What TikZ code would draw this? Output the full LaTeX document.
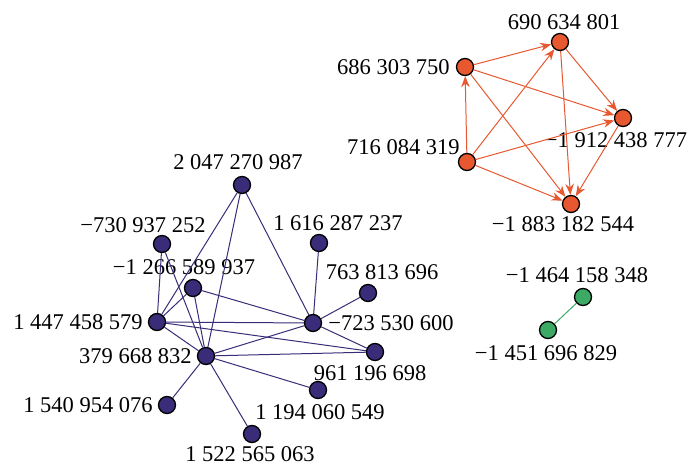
\documentclass[tikz,border=0pt]{standalone}
\usepackage{fontspec}
\setmainfont{Liberation Serif}
\usetikzlibrary{positioning,arrows.meta}

\definecolor{indigo}{RGB}{58,44,120}
\definecolor{tomato}{RGB}{232,88,48}
\definecolor{leaf}{RGB}{60,170,100}

\begin{document}
\begin{tikzpicture}[x=1pt,y=-1pt]
        \tikzstyle{vertex}=[circle, draw=black, line width=1.3pt, minimum size=17pt, inner sep=0pt];
        \tikzstyle{bluev}=[vertex, fill=indigo];
        \tikzstyle{redv}=[vertex, fill=tomato];
        \tikzstyle{greenv}=[vertex, fill=leaf];
        \tikzstyle{number}=[inner sep=0pt, font=\fontsize{22.5}{26}\selectfont];
        \tikzstyle{blueedge}=[draw=indigo, line width=1pt];
        \tikzstyle{rededge}=[draw=tomato, line width=1pt, -{Stealth[length=11pt, width=8.5pt]}];
        \tikzstyle{greenedge}=[draw=leaf, line width=1pt];

        \useasboundingbox (0,0) rectangle (700,465);

        % first component
        \node [bluev] (A) at (242,185) {};
        \node [bluev] (B) at (162,244) {};
        \node [bluev] (C) at (319,243) {};
        \node [bluev] (D) at (193,288) {};
        \node [bluev] (E) at (368,293) {};
        \node [bluev] (F) at (157,322) {};
        \node [bluev] (G) at (313,323) {};
        \node [bluev] (H) at (206,356) {};
        \node [bluev] (I) at (375,352) {};
        \node [bluev] (J) at (318,390) {};
        \node [bluev] (K) at (167,405) {};
        \node [bluev] (L) at (252,434) {};

        \node [number, above=6pt of A, xshift=-4pt] (lA) {2 047 270 987};
        \node [number, above=2pt of B, xshift=-19pt] (lB) {−730 937 252};
        \node [number, above=3pt of C, xshift=19pt] (lC) {1 616 287 237};
        \node [number, above=4pt of D, xshift=-9pt] (lD) {−1 266 589 937};
        \node [number, above=4pt of E, xshift=14pt] (lE) {763 813 696};
        \node [number, left=5pt of F] (lF) {1 447 458 579};
        \node [number, right=6pt of G] (lG) {−723 530 600};
        \node [number, left=5pt of H] (lH) {379 668 832};
        \node [number, below=4pt of I, xshift=-5pt] (lI) {961 196 698};
        \node [number, below=5pt of J, xshift=2pt] (lJ) {1 194 060 549};
        \node [number, left=5pt of K] (lK) {1 540 954 076};
        \node [number, below=3pt of L, xshift=-2pt] (lL) {1 522 565 063};

        \foreach \u/\v in {A/F, A/H, A/G, B/F, B/H, C/G, D/F, D/H, D/G, E/G,
                F/G, F/I, F/H, G/H, G/I, H/I, H/J, H/K, H/L}
            \draw [blueedge] (\u) -- (\v);

        % second component
        \node [redv] (R1) at (560,42) {};
        \node [redv] (R2) at (465,67) {};
        \node [redv] (R3) at (623,118) {};
        \node [redv] (R4) at (467,162) {};
        \node [redv] (R5) at (571,204) {};

        \node [number, above=3pt of R1, xshift=4pt] (lR1) {690 634 801};
        \node [number, left=6pt of R2] (lR2) {686 303 750};
        \node [number, below=5pt of R3, xshift=-7pt] (lR3) {−1 912 438 777};
        \node [number, left=-2pt of R4, yshift=14.5pt] (lR4) {716 084 319};
        \node [number, below=3pt of R5, xshift=-8pt] (lR5) {−1 883 182 544};

        \foreach \u/\v in {R2/R1, R2/R3, R2/R5, R4/R2, R4/R1, R4/R3, R4/R5,
                R1/R3, R1/R5, R3/R5}
            \draw [rededge] (\u) -- (\v);

        % third component
        \node [greenv] (G1) at (583,297) {};
        \node [greenv] (G2) at (548,330) {};

        \node [number, above=5pt of G1, xshift=-6pt] (lG1) {−1 464 158 348};
        \node [number, below=6pt of G2, xshift=-2pt] (lG2) {−1 451 696 829};

        \draw [greenedge] (G2) -- (G1);
    \end{tikzpicture}
\end{document}
